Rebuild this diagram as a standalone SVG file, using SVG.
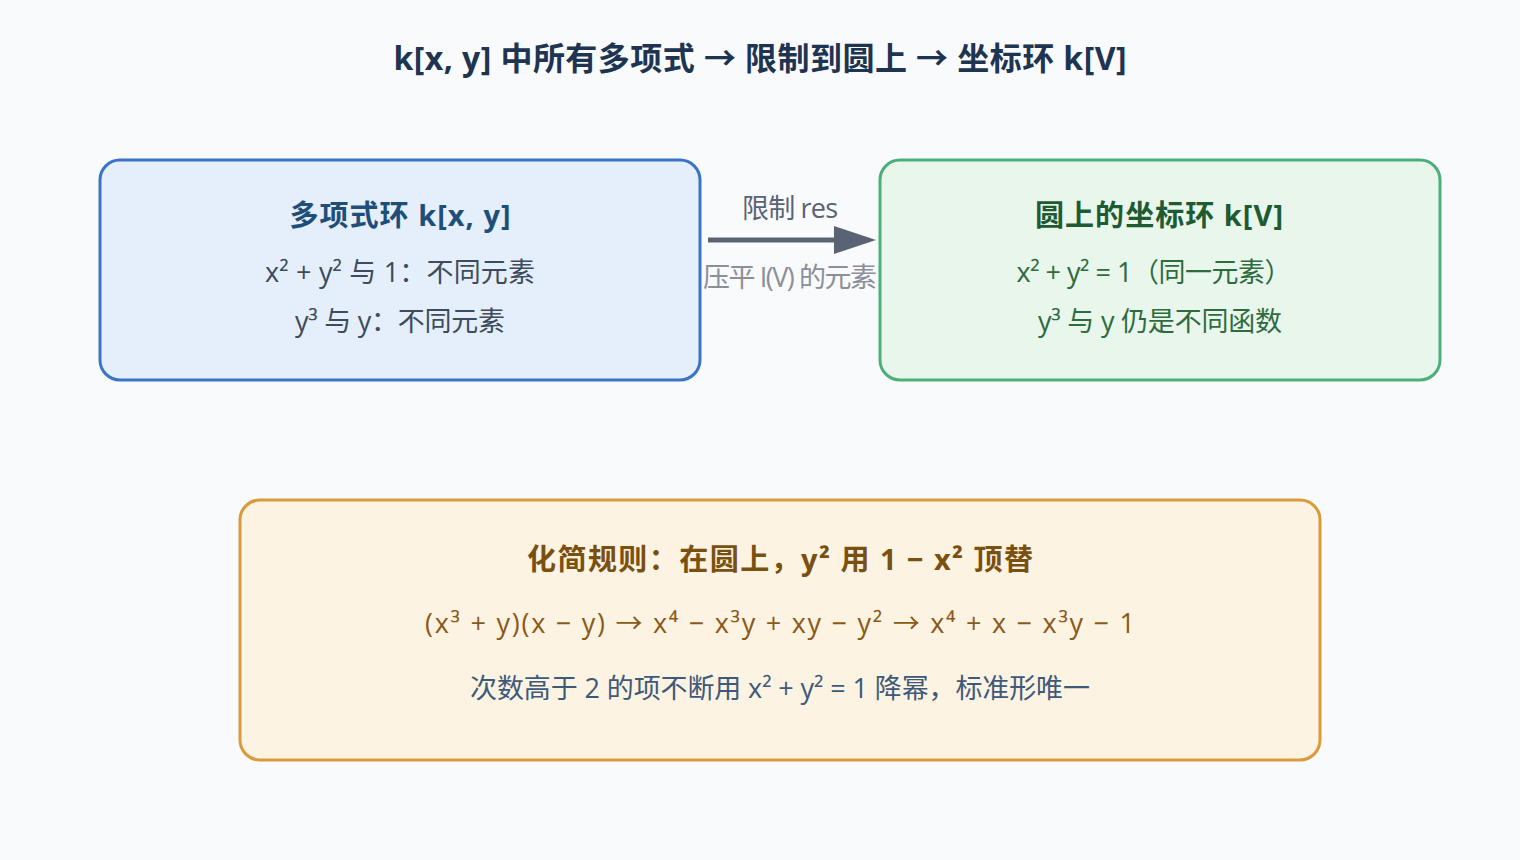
<svg xmlns="http://www.w3.org/2000/svg" width="1520" height="860" viewBox="0 0 1520 860">
<defs>
<style>
text{font-family:"Open Sans","Noto Sans","Noto Sans CJK SC",sans-serif;text-anchor:middle;dominant-baseline:central}
.t{font-size:32px;font-weight:bold;fill:#1e3450}
.h{font-size:29px;font-weight:bold}
.b{font-size:27px}
</style>
</defs>
<rect width="1520" height="860" fill="#f8fafc"/>
<text class="t" x="760" y="57" textLength="733">k[x, y] 中所有多项式 → 限制到圆上 → 坐标环 k[V]</text>
<g id="poly">
<rect x="100" y="160" width="600" height="220" rx="20" fill="#e4effb" stroke="#3a74c4" stroke-width="3"/>
<text class="h" x="400" y="214" fill="#1f4e79" textLength="221">多项式环 k[x, y]</text>
<text class="b" x="400" y="271" fill="#3d4b5c" textLength="270">x² + y² 与 1：不同元素</text>
<text class="b" x="400" y="320" fill="#3d4b5c" textLength="210">y³ 与 y：不同元素</text>
</g>
<g id="coord">
<rect x="880" y="160" width="560" height="220" rx="20" fill="#e8f6ec" stroke="#4caf7a" stroke-width="3"/>
<text class="h" x="1159" y="214" fill="#1e5a32" textLength="248">圆上的坐标环 k[V]</text>
<text class="b" x="1154" y="271" fill="#2e6b3e" textLength="275">x² + y² = 1（同一元素）</text>
<text class="b" x="1160" y="320" fill="#2e6b3e" textLength="244">y³ 与 y 仍是不同函数</text>
</g>
<g id="rule">
<rect x="240" y="500" width="1080" height="260" rx="20" fill="#fdf3e3" stroke="#d99a3a" stroke-width="3"/>
<text class="h" x="780" y="558" fill="#7a5010" textLength="506">化简规则：在圆上，y² 用 1 − x² 顶替</text>
<text class="b" x="780" y="622" fill="#8a5a1a" textLength="710">(x³ + y)(x − y) → x⁴ − x³y + xy − y² → x⁴ + x − x³y − 1</text>
<text class="b" x="780" y="687" fill="#3d5a7a" textLength="620">次数高于 2 的项不断用 x² + y² = 1 降幂，标准形唯一</text>
</g>
<g id="connectors">
<line x1="708" y1="240" x2="840" y2="240" stroke="#5a6373" stroke-width="5"/>
<path d="M834,226L876,240L834,254z" fill="#5a6373"/>
<text class="b" x="790" y="207" fill="#5a6373" textLength="96">限制 res</text>
<text class="b" x="790" y="276" fill="#8a8f99" textLength="174">压平 I(V) 的元素</text>
</g>
</svg>
